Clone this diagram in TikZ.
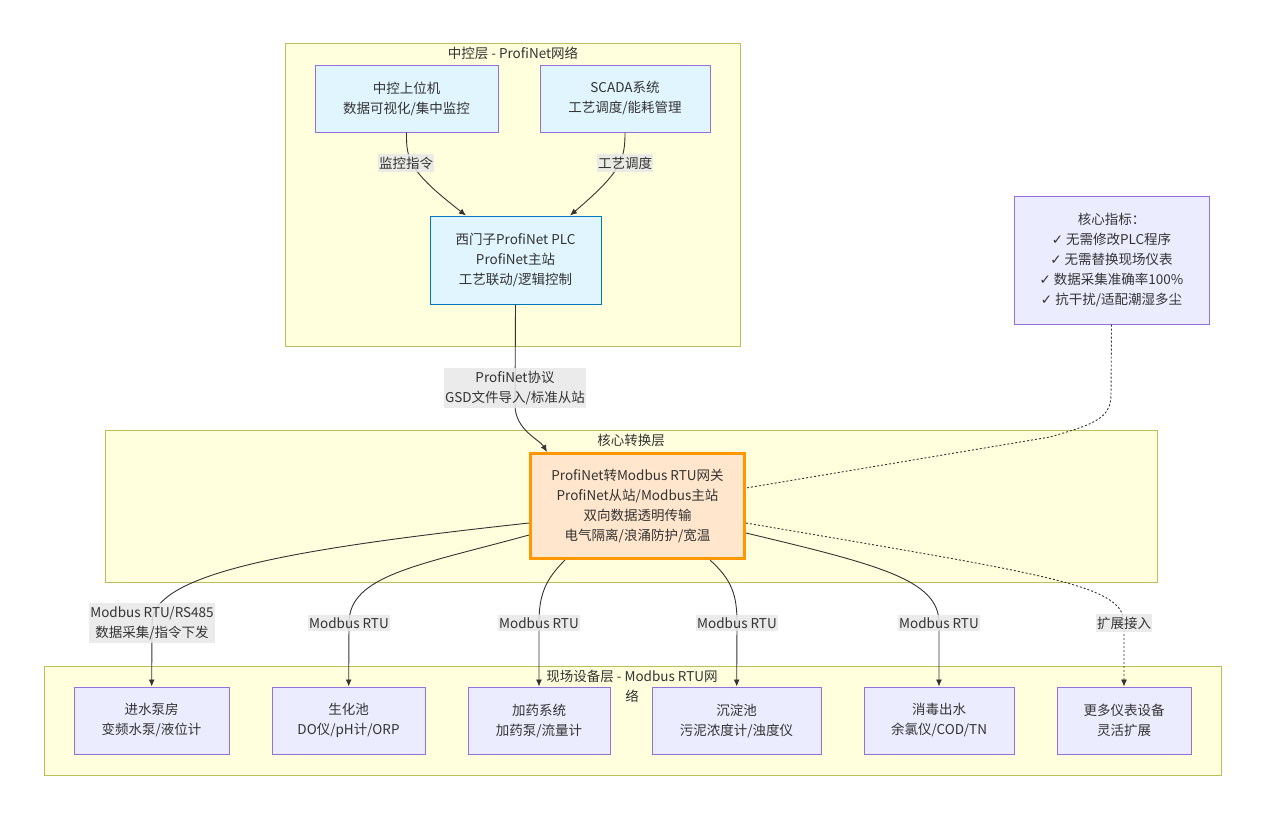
\documentclass[tikz,border=0pt]{standalone}
\usepackage{fontspec}
\setmainfont{Noto Sans CJK SC}
\newfontfamily\symfont{DejaVu Sans}
\usetikzlibrary{arrows.meta}
\definecolor{layerfill}{HTML}{FFFFDE}
\definecolor{layerline}{HTML}{BDBD5A}
\definecolor{unitfill}{HTML}{ECECFF}
\definecolor{unitline}{HTML}{9370DB}
\definecolor{hostfill}{HTML}{E1F5FE}
\definecolor{plcline}{HTML}{0277BD}
\definecolor{gwfill}{HTML}{FFE6CC}
\definecolor{gwline}{HTML}{FF9800}
\definecolor{tagfill}{HTML}{E8E8E8}
\definecolor{ink}{HTML}{333333}
\newcommand\okmark{{\symfont ✓}}

\begin{document}
\begin{tikzpicture}[x=1pt,y=-1pt,
  every node/.style={font=\fontsize{13.5}{20}\selectfont, text=ink},
  layer/.style={draw=layerline, fill=layerfill, line width=1pt},
  unit/.style={draw=unitline, fill=unitfill, line width=1pt, align=center, inner sep=0pt, minimum height=67pt},
  host/.style={unit, fill=hostfill},
  plcbox/.style={host, draw=plcline, minimum height=88pt},
  gwbox/.style={unit, draw=gwline, fill=gwfill, line width=3pt, minimum width=214pt, minimum height=105pt},
  kpibox/.style={unit, minimum width=195pt, minimum height=128pt},
  tag/.style={fill=tagfill, fill opacity=0.85, text opacity=1, align=center, inner xsep=1pt, inner ysep=3pt},
  link/.style={draw=ink, line width=0.9pt, -{Latex[length=7pt,width=6pt]}},
  hint/.style={link, dash pattern=on 2pt off 2pt},
  kpilink/.style={draw=ink, line width=0.9pt, dash pattern=on 2pt off 2pt}]
\useasboundingbox[fill=white] (0,0) rectangle (1265,820);

\draw[layer] (285,43) rectangle (740,346);
\node (toptitle) at (513,53) {中控层 - ProfiNet网络};
\draw[layer] (105,430) rectangle (1157,582);
\node (coretitle) at (631,440) {核心转换层};
\draw[layer] (44,666) rectangle (1221,775);
\node[align=center] (fieldtitle) at (632,686.5) {现场设备层 - Modbus RTU网\\络};

\node[host, minimum width=183pt] (ctrl) at (406.5,98.5) {中控上位机\\数据可视化/集中监控};
\node[host, minimum width=170pt] (scada) at (625,98.5) {SCADA系统\\工艺调度/能耗管理};
\node[plcbox, minimum width=171pt] (plc) at (515.5,260) {西门子ProfiNet PLC\\ProfiNet主站\\工艺联动/逻辑控制};
\node[gwbox] (gw) at (637.5,506) {ProfiNet转Modbus RTU网关\\ProfiNet从站/Modbus主站\\双向数据透明传输\\电气隔离/浪涌防护/宽温};
\node[kpibox] (kpi) at (1111.5,260) {核心指标：\\\okmark{} 无需修改PLC程序\\\okmark{} 无需替换现场仪表\\\okmark{} 数据采集准确率100\%\\\okmark{} 抗干扰/适配潮湿多尘};

\node[unit, minimum width=155pt] (pump) at (151.5,720.5) {进水泵房\\变频水泵/液位计};
\node[unit, minimum width=153pt] (bio) at (348.5,720.5) {生化池\\DO仪/pH计/ORP};
\node[unit, minimum width=142pt] (dose) at (539,720.5) {加药系统\\加药泵/流量计};
\node[unit, minimum width=169pt] (settle) at (736.5,720.5) {沉淀池\\污泥浓度计/浊度仪};
\node[unit, minimum width=150pt] (disinf) at (939,720.5) {消毒出水\\余氯仪/COD/TN};
\node[unit, minimum width=134pt] (more) at (1124,720.5) {更多仪表设备\\灵活扩展};

\coordinate (cmon) at (406,163);
\coordinate (cproc) at (625,163);
\coordinate (cpn) at (515,388);
\coordinate (cpump) at (152,623);
\coordinate (cbio) at (349,623);
\coordinate (cdose) at (539,623);
\coordinate (csettle) at (737,623);
\coordinate (cdisinf) at (939,623);
\coordinate (cmore) at (1124,623);

\draw[link] (ctrl.south) .. controls (406,160) and (410,172) .. ([xshift=-49.5pt]plc.north);
\draw[link] (scada.south) .. controls (625,160) and (621,172) .. ([xshift=54.5pt]plc.north);
\draw[link] (plc.south) -- (515,405) .. controls (515,430) and (540,440) .. ([xshift=-90.5pt]gw.north);
\draw[link] ([yshift=-17pt]gw.west) .. controls (300,548) and (152,572) .. (cpump) -- (pump);
\draw[link] ([yshift=-29pt]gw.west) .. controls (420,565) and (349,575) .. (cbio) -- (bio);
\draw[link] ([xshift=-72.5pt]gw.south) .. controls (545,580) and (539,595) .. (cdose) -- (dose);
\draw[link] ([xshift=72.5pt]gw.south) .. controls (732,580) and (737,595) .. (csettle) -- (settle);
\draw[link] ([yshift=-27pt]gw.east) .. controls (880,565) and (939,580) .. (cdisinf) -- (disinf);
\draw[hint] ([yshift=-17pt]gw.east) .. controls (1050,575) and (1124,585) .. (cmore) -- (more);
\draw[kpilink] (kpi.south) -- (1111,395) .. controls (1111,420) and (1090,425) .. (1050,437) -- ([yshift=18pt]gw.east);

\node[tag] (tmon) at (cmon) {监控指令};
\node[tag] (tproc) at (cproc) {工艺调度};
\node[tag] (tpn) at (cpn) {ProfiNet协议\\GSD文件导入/标准从站};
\node[tag] (tpump) at (cpump) {Modbus RTU/RS485\\数据采集/指令下发};
\node[tag] (tbio) at (cbio) {Modbus RTU};
\node[tag] (tdose) at (cdose) {Modbus RTU};
\node[tag] (tsettle) at (csettle) {Modbus RTU};
\node[tag] (tdisinf) at (cdisinf) {Modbus RTU};
\node[tag] (tmore) at (cmore) {扩展接入};
\end{tikzpicture}
\end{document}
